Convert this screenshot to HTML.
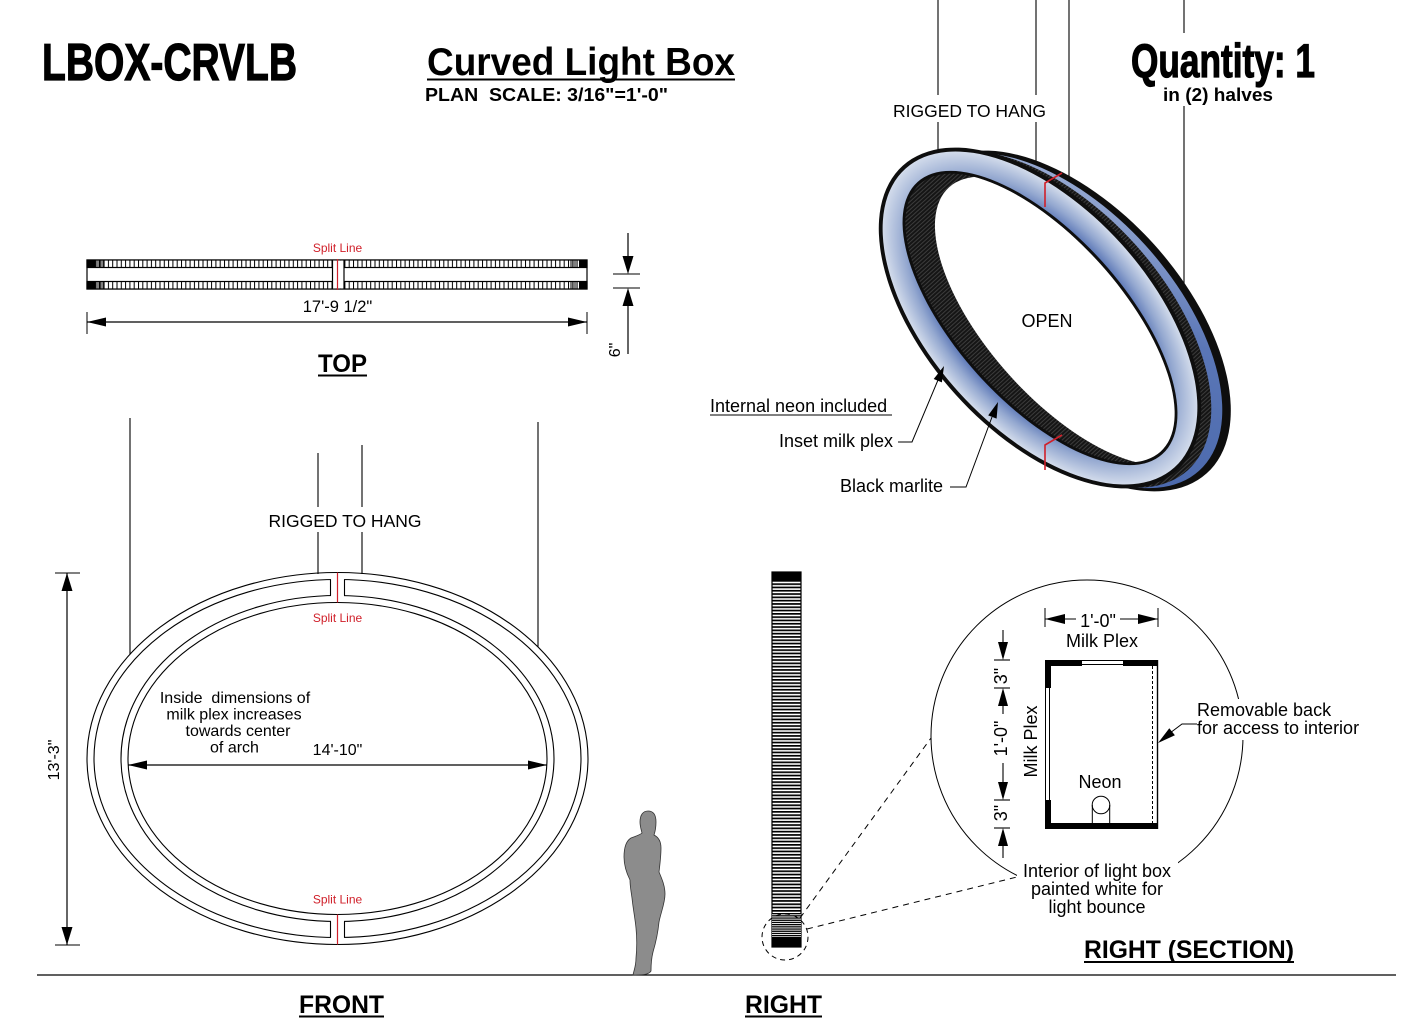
<!DOCTYPE html>
<html><head><meta charset="utf-8">
<style>
html,body{margin:0;padding:0;background:#fff;}
svg{display:block;}
text{font-family:"Liberation Sans",Arial,sans-serif;}
</style></head><body>
<svg width="1409" height="1035" viewBox="0 0 1409 1035" xmlns="http://www.w3.org/2000/svg">
<defs>
 <pattern id="vh" width="4.3" height="10" patternUnits="userSpaceOnUse" x="95" y="0">
   <rect width="4.3" height="10" fill="#fff"/>
   <rect x="0" width="1" height="10" fill="#000"/>
 </pattern>
 <pattern id="hh" width="30" height="3.3" patternUnits="userSpaceOnUse" x="0" y="580">
   <rect width="30" height="3.3" fill="#fff"/>
   <rect y="0" width="30" height="1.7" fill="#000"/>
 </pattern>
 <pattern id="hh2" width="30" height="2.2" patternUnits="userSpaceOnUse" x="0" y="913">
   <rect width="30" height="2.2" fill="#fff"/>
   <rect y="0" width="30" height="1.3" fill="#000"/>
 </pattern>
 <pattern id="wall" width="3" height="3" patternUnits="userSpaceOnUse">
   <rect width="3" height="3" fill="#151515"/>
   <rect width="1" height="3" fill="#3c3c3c"/>
 </pattern>
 <radialGradient id="face" cx="0.5" cy="0.5" r="0.5">
   <stop offset="0" stop-color="#5c77b6"/>
   <stop offset="0.76" stop-color="#5f7ab8"/>
   <stop offset="0.86" stop-color="#94a8d0"/>
   <stop offset="1" stop-color="#d2dbeb"/>
 </radialGradient>
 <linearGradient id="side" x1="0" y1="0" x2="1" y2="1">
   <stop offset="0" stop-color="#b3c2e0"/>
   <stop offset="0.45" stop-color="#5a76b6"/>
   <stop offset="1" stop-color="#4463a8"/>
 </linearGradient>
 <clipPath id="fi"><ellipse cx="0" cy="0" rx="180" ry="81"/></clipPath>
</defs>

<!-- ===== Titles ===== -->
<text x="42" y="80" font-size="52" font-weight="bold" textLength="255" lengthAdjust="spacingAndGlyphs" stroke="#000" stroke-width="1.2">LBOX-CRVLB</text>
<text x="427" y="75" font-size="39" font-weight="bold" textLength="308" lengthAdjust="spacingAndGlyphs">Curved Light Box</text>
<line x1="427" y1="79.5" x2="735" y2="79.5" stroke="#000" stroke-width="2"/>
<text x="425" y="101" font-size="18" font-weight="bold" textLength="243" lengthAdjust="spacingAndGlyphs">PLAN&#160;&#160;SCALE:&#160;3/16"=1'-0"</text>
<text x="1131" y="77" font-size="47" font-weight="bold" textLength="184" lengthAdjust="spacingAndGlyphs" stroke="#000" stroke-width="1.2">Quantity: 1</text>
<text x="1163" y="101" font-size="18" font-weight="bold" textLength="110" lengthAdjust="spacingAndGlyphs">in (2) halves</text>

<!-- ===== TOP plan ===== -->
<text x="337.5" y="252" font-size="12" fill="#d0202a" text-anchor="middle">Split Line</text>
<rect x="87" y="260" width="500" height="29" fill="#fff" stroke="#000" stroke-width="1.2"/>
<rect x="87" y="260" width="500" height="7.5" fill="url(#vh)" stroke="#000" stroke-width="1.2"/>
<rect x="87" y="281.5" width="500" height="7.5" fill="url(#vh)" stroke="#000" stroke-width="1.2"/>
<g fill="#000">
 <rect x="87" y="260" width="8" height="7.5"/><rect x="87" y="281.5" width="8" height="7.5"/>
 <rect x="579" y="260" width="8" height="7.5"/><rect x="579" y="281.5" width="8" height="7.5"/>
 <rect x="96.5" y="260" width="1" height="7.5"/><rect x="98.5" y="260" width="1" height="7.5"/><rect x="100.5" y="260" width="1" height="7.5"/><rect x="102.5" y="260" width="1" height="7.5"/>
 <rect x="96.5" y="281.5" width="1" height="7.5"/><rect x="98.5" y="281.5" width="1" height="7.5"/><rect x="100.5" y="281.5" width="1" height="7.5"/><rect x="102.5" y="281.5" width="1" height="7.5"/>
 <rect x="570.5" y="260" width="1" height="7.5"/><rect x="572.5" y="260" width="1" height="7.5"/><rect x="574.5" y="260" width="1" height="7.5"/><rect x="576.5" y="260" width="1" height="7.5"/>
 <rect x="570.5" y="281.5" width="1" height="7.5"/><rect x="572.5" y="281.5" width="1" height="7.5"/><rect x="574.5" y="281.5" width="1" height="7.5"/><rect x="576.5" y="281.5" width="1" height="7.5"/>
</g>
<rect x="333" y="260.6" width="11" height="27.8" fill="#fff"/>
<line x1="332.5" y1="260" x2="332.5" y2="289" stroke="#000" stroke-width="1.2"/>
<line x1="344" y1="260" x2="344" y2="289" stroke="#000" stroke-width="1.2"/>
<line x1="337.5" y1="259" x2="337.5" y2="290" stroke="#d0202a" stroke-width="1.2"/>

<text x="337.5" y="312" font-size="16.5" text-anchor="middle">17'-9 1/2"</text>
<line x1="87" y1="322" x2="587" y2="322" stroke="#000" stroke-width="1.2"/>
<line x1="87" y1="312" x2="87" y2="334" stroke="#000"/>
<line x1="587" y1="312" x2="587" y2="334" stroke="#000"/>
<polygon points="87,322 106,317.5 106,326.5" fill="#000"/>
<polygon points="587,322 568,317.5 568,326.5" fill="#000"/>

<line x1="628" y1="233" x2="628" y2="257" stroke="#000" stroke-width="1.2"/>
<polygon points="628,274 622.5,256 633.5,256" fill="#000"/>
<line x1="613" y1="274" x2="640" y2="274" stroke="#000"/>
<line x1="613" y1="288" x2="640" y2="288" stroke="#000"/>
<polygon points="628,288 622.5,306 633.5,306" fill="#000"/>
<line x1="628" y1="305" x2="628" y2="354" stroke="#000" stroke-width="1.2"/>
<text transform="translate(620,350) rotate(-90)" font-size="16" text-anchor="middle">6"</text>

<text x="318" y="372" font-size="25" font-weight="bold" textLength="49" lengthAdjust="spacingAndGlyphs">TOP</text>
<line x1="318" y1="375.5" x2="367" y2="375.5" stroke="#000" stroke-width="2"/>

<!-- ===== FRONT view ===== -->
<g stroke="#000" stroke-width="1.1">
 <line x1="130" y1="418" x2="130" y2="654"/>
 <line x1="538" y1="422" x2="538" y2="647"/>
 <line x1="318" y1="453" x2="318" y2="507"/>
 <line x1="318" y1="532" x2="318" y2="574"/>
 <line x1="362" y1="445" x2="362" y2="507"/>
 <line x1="362" y1="532" x2="362" y2="574"/>
</g>
<text x="345" y="527" font-size="17.5" text-anchor="middle">RIGGED TO HANG</text>

<g fill="none" stroke="#000" stroke-width="1.1">
 <ellipse cx="337.5" cy="758.5" rx="250.5" ry="186"/>
 <ellipse cx="337.5" cy="758.5" rx="243.5" ry="179"/>
 <ellipse cx="337.5" cy="758.5" rx="216.5" ry="163"/>
 <ellipse cx="337.5" cy="758.5" rx="209.5" ry="156"/>
</g>
<rect x="331" y="577" width="13" height="21" fill="#fff"/>
<rect x="331" y="919" width="13" height="21" fill="#fff"/>
<g stroke="#000" stroke-width="1.1">
 <line x1="330.5" y1="579.5" x2="330.5" y2="595.5"/>
 <line x1="344.5" y1="579.5" x2="344.5" y2="595.5"/>
 <line x1="330.5" y1="921.5" x2="330.5" y2="937.5"/>
 <line x1="344.5" y1="921.5" x2="344.5" y2="937.5"/>
</g>
<line x1="337.5" y1="572.5" x2="337.5" y2="602.5" stroke="#d0202a" stroke-width="1.2"/>
<line x1="337.5" y1="914.5" x2="337.5" y2="944.5" stroke="#d0202a" stroke-width="1.2"/>
<text x="337.5" y="622" font-size="12" fill="#d0202a" text-anchor="middle">Split Line</text>
<text x="337.5" y="903.5" font-size="12" fill="#d0202a" text-anchor="middle">Split Line</text>

<g font-size="16" text-anchor="middle">
 <text x="235" y="703">Inside&#160;&#160;dimensions of</text>
 <text x="234" y="719.5">milk plex increases</text>
 <text x="238" y="736">towards center</text>
 <text x="234.5" y="752.5">of arch</text>
 <text x="337.5" y="755">14'-10"</text>
</g>
<line x1="128" y1="765" x2="547" y2="765" stroke="#000" stroke-width="1.2"/>
<polygon points="128,765 147,760.5 147,769.5" fill="#000"/>
<polygon points="547,765 528,760.5 528,769.5" fill="#000"/>

<line x1="67" y1="573" x2="67" y2="945" stroke="#000" stroke-width="1.2"/>
<line x1="55" y1="573" x2="80" y2="573" stroke="#000"/>
<line x1="55" y1="945" x2="80" y2="945" stroke="#000"/>
<polygon points="67,573 61.5,591 72.5,591" fill="#000"/>
<polygon points="67,945 61.5,927 72.5,927" fill="#000"/>
<text transform="translate(59,760) rotate(-90)" font-size="16" text-anchor="middle">13'-3"</text>

<!-- ground -->
<line x1="37" y1="975" x2="1396" y2="975" stroke="#000" stroke-width="1.3"/>
<text x="299" y="1013" font-size="25" font-weight="bold" textLength="85" lengthAdjust="spacingAndGlyphs">FRONT</text>
<line x1="299" y1="1016.5" x2="384" y2="1016.5" stroke="#000" stroke-width="2"/>
<text x="745" y="1013" font-size="25" font-weight="bold" textLength="77" lengthAdjust="spacingAndGlyphs">RIGHT</text>
<line x1="745" y1="1016.5" x2="822" y2="1016.5" stroke="#000" stroke-width="2"/>

<!-- figure -->
<path d="M648,811 C654,811 656,816 656,822 C656,828 655,832 654,835 C658,837 661,841 661,848 C661,856 660,864 659,872 C662,879 665,886 665,894 C665,903 661,912 659,922 C658,932 656,942 653,952 C651,960 651,967 651,971 C649,974 646,975 633,975 C634,970 636,966 636,958 C637,948 637,938 636,928 C635,918 633,908 632,898 C631,891 630,886 630,880 C627,874 624,866 624,857 C624,848 626,841 631,838 C636,836 640,835 642,833 C641,829 640,826 640,822 C640,815 643,811 648,811 Z" fill="#8c8c8c" stroke="#333" stroke-width="0.8"/>

<!-- RIGHT bar -->
<rect x="772" y="572" width="29" height="375" fill="url(#hh)" stroke="#000" stroke-width="1.2"/>
<rect x="772" y="913" width="29" height="24" fill="url(#hh2)"/>
<rect x="772" y="572" width="29" height="8" fill="#000"/>
<rect x="772" y="937" width="29" height="10" fill="#000"/>
<circle cx="785" cy="937" r="23" fill="none" stroke="#000" stroke-width="1" stroke-dasharray="5,4"/>
<line x1="800" y1="918" x2="931" y2="738" stroke="#000" stroke-width="1" stroke-dasharray="6,5"/>
<line x1="807" y1="929" x2="1017" y2="877" stroke="#000" stroke-width="1" stroke-dasharray="6,5"/>

<!-- ===== SECTION ===== -->
<circle cx="1087" cy="736" r="156" fill="none" stroke="#000" stroke-width="1"/>
<rect x="1193" y="699" width="178" height="41" fill="#fff"/>
<rect x="1017" y="861" width="161" height="58" fill="#fff"/>

<line x1="1045" y1="608" x2="1045" y2="627" stroke="#000"/>
<line x1="1158" y1="608" x2="1158" y2="627" stroke="#000"/>
<line x1="1045" y1="619" x2="1076" y2="619" stroke="#000" stroke-width="1.1"/>
<line x1="1120" y1="619" x2="1158" y2="619" stroke="#000" stroke-width="1.1"/>
<polygon points="1045,619 1065,614 1065,624" fill="#000"/>
<polygon points="1158,619 1138,614 1138,624" fill="#000"/>
<g font-size="18" text-anchor="middle">
 <text x="1098" y="627">1'-0"</text>
 <text x="1102" y="647">Milk Plex</text>
 <text x="1100" y="788">Neon</text>
</g>

<g fill="#000">
 <rect x="1045" y="660" width="37" height="6"/>
 <rect x="1123" y="660" width="35" height="6"/>
 <rect x="1045" y="660" width="6" height="28"/>
 <rect x="1045" y="800" width="6" height="29"/>
 <rect x="1045" y="823" width="113" height="6"/>
</g>
<g stroke="#000" stroke-width="1">
 <line x1="1082" y1="660.5" x2="1123" y2="660.5"/>
 <line x1="1082" y1="664.5" x2="1123" y2="664.5"/>
 <line x1="1045.5" y1="688" x2="1045.5" y2="800"/>
 <line x1="1049.5" y1="688" x2="1049.5" y2="800"/>
 <line x1="1157.5" y1="660" x2="1157.5" y2="829" stroke-width="1.4"/>
 <line x1="1152.5" y1="666" x2="1152.5" y2="823" stroke-dasharray="3,2"/>
</g>
<circle cx="1101" cy="805" r="8.8" fill="#fff" stroke="#000" stroke-width="1"/>
<line x1="1092.3" y1="805" x2="1092.3" y2="823" stroke="#000"/>
<line x1="1109.7" y1="805" x2="1109.7" y2="823" stroke="#000"/>

<g stroke="#000" stroke-width="1.1">
 <line x1="1003" y1="630" x2="1003" y2="646"/>
 <line x1="994" y1="660" x2="1010" y2="660"/>
 <line x1="994" y1="688" x2="1010" y2="688"/>
 <line x1="1003" y1="706" x2="1003" y2="714"/>
 <line x1="1003" y1="763" x2="1003" y2="783"/>
 <line x1="994" y1="800" x2="1010" y2="800"/>
 <line x1="994" y1="828" x2="1010" y2="828"/>
 <line x1="1003" y1="846" x2="1003" y2="858"/>
</g>
<polygon points="1003,660 998,642 1008,642" fill="#000"/>
<polygon points="1003,688 998,706 1008,706" fill="#000"/>
<polygon points="1003,800 998,782 1008,782" fill="#000"/>
<polygon points="1003,828 998,846 1008,846" fill="#000"/>
<g font-size="18" text-anchor="middle">
 <text transform="translate(1007,676) rotate(-90)">3"</text>
 <text transform="translate(1007,738.5) rotate(-90)">1'-0"</text>
 <text transform="translate(1007,813) rotate(-90)">3"</text>
 <text transform="translate(1037,741.5) rotate(-90)">Milk Plex</text>
</g>

<text x="1197" y="716" font-size="18">Removable back</text>
<text x="1197" y="734" font-size="18">for access to interior</text>
<polyline points="1197,724 1182,724 1170,733" fill="none" stroke="#000" stroke-width="1"/>
<polygon points="1158,743 1174.9,735.3 1169.3,728.3" fill="#000"/>

<g font-size="18" text-anchor="middle">
 <text x="1097" y="877">Interior of light box</text>
 <text x="1097" y="895">painted white for</text>
 <text x="1097" y="913">light bounce</text>
</g>
<text x="1084" y="958" font-size="25" font-weight="bold" textLength="210" lengthAdjust="spacingAndGlyphs">RIGHT (SECTION)</text>
<line x1="1084" y1="962" x2="1294" y2="962" stroke="#000" stroke-width="2"/>

<!-- ===== 3D RING ===== -->
<g stroke="#000" stroke-width="1.1">
 <line x1="938" y1="0" x2="938" y2="95"/>
 <line x1="938" y1="122" x2="938" y2="180"/>
 <line x1="1036" y1="0" x2="1036" y2="95"/>
 <line x1="1036" y1="122" x2="1036" y2="180"/>
 <line x1="1069" y1="0" x2="1069" y2="190"/>
 <line x1="1184" y1="0" x2="1184" y2="33"/>
 <line x1="1184" y1="106" x2="1184" y2="300"/>
</g>
<text x="969.5" y="117" font-size="17.5" text-anchor="middle">RIGGED TO HANG</text>

<g transform="translate(1040,318) rotate(48)">
 <ellipse cx="22" cy="-20" rx="205" ry="114" fill="#0e0e0e"/>
 <ellipse cx="18" cy="-16" rx="202" ry="111" fill="url(#side)"/>
 <ellipse cx="9" cy="-8" rx="203" ry="112" fill="url(#wall)"/>
 <ellipse cx="0" cy="0" rx="205" ry="114" fill="#0e0e0e"/>
 <ellipse cx="0" cy="0" rx="201" ry="110" fill="url(#face)"/>
 <ellipse cx="0" cy="0" rx="183" ry="84" fill="#0e0e0e"/>
 <ellipse cx="0" cy="0" rx="180" ry="81" fill="url(#wall)"/>
 <ellipse cx="22" cy="-20" rx="180" ry="81" fill="#fff" clip-path="url(#fi)"/>
</g>
<g stroke="#d0202a" stroke-width="1.6" fill="none">
 <polyline points="1045,207 1045,183 1062,173"/>
 <polyline points="1045,470 1045,445 1062,435"/>
</g>
<text x="1047" y="327" font-size="18" text-anchor="middle">OPEN</text>

<text x="710" y="412" font-size="18">Internal neon included</text>
<line x1="710" y1="415" x2="892" y2="415" stroke="#000" stroke-width="1"/>
<text x="893" y="447" font-size="18" text-anchor="end">Inset milk plex</text>
<polyline points="898,442 912,442 938,380" fill="none" stroke="#000" stroke-width="1"/>
<polygon points="944,366 941.9,382.4 933.7,379" fill="#000"/>
<text x="943" y="492" font-size="18" text-anchor="end">Black marlite</text>
<polyline points="950,487 966,487 992,417" fill="none" stroke="#000" stroke-width="1"/>
<polygon points="998,402 996.6,418.6 988.2,415.4" fill="#000"/>
</svg>
</body></html>
